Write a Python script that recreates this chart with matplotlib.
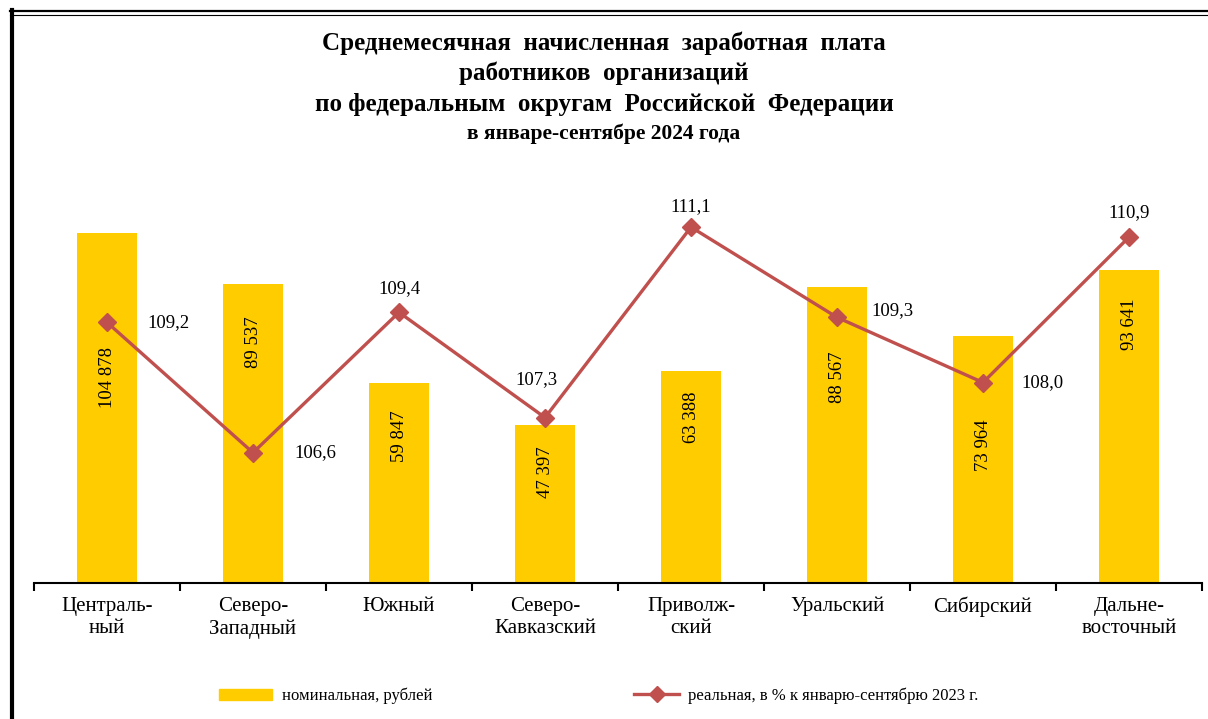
import matplotlib
matplotlib.use("Agg")
import matplotlib.pyplot as plt
from matplotlib.lines import Line2D
from matplotlib.patches import Patch

# data: federal districts, nominal wage (rub) and real wage index (% to 2023)
districts = ["Централь-\nный", "Северо-\nЗападный", "Южный", "Северо-\nКавказский",
             "Приволж-\nский", "Уральский", "Сибирский", "Дальне-\nвосточный"]
nominal = [104878, 89537, 59847, 47397, 63388, 88567, 73964, 93641]
real = [109.2, 106.6, 109.4, 107.3, 111.1, 109.3, 108.0, 110.9]

# where the labels sit (layout only)
bar_label_y = [61500, 72000, 43900, 33200, 49600, 61500, 41200, 77400]
line_label_off = [(44, 0), (45, 0), (0, 17), (-6, 27), (0, 15), (40, 5), (43, 0), (0, 18)]

BAR = "#FFCC00"
LINE = "#C0504D"
plt.rcParams["font.family"] = ["Liberation Serif", "DejaVu Serif"]

fig = plt.figure(figsize=(12.08, 7.19), dpi=100)
ax = fig.add_axes([34/1208, 1-583/719, 1168/1208, 401/719])
x = list(range(len(districts)))

ax.bar(x, nominal, width=0.41, color=BAR, zorder=1)
ax.set_xlim(-0.5, 7.5)
ax.set_ylim(0, 120000)
for i, v in enumerate(nominal):
    ax.text(i, bar_label_y[i], f"{v:,}".replace(",", " "), rotation=90,
            ha="center", va="center", fontsize=13.5)

for s in ["top", "right", "left"]:
    ax.spines[s].set_visible(False)
ax.spines["bottom"].set_linewidth(1.5)
ax.set_yticks([])
ax.set_xticks([i - 0.5 for i in range(len(districts) + 1)])
ax.set_xticklabels([])
ax.set_xticks(x, minor=True)
ax.set_xticklabels(districts, minor=True, fontsize=15, linespacing=1.25)
ax.tick_params(axis="x", which="major", length=6, width=1.5, direction="out")
ax.tick_params(axis="x", which="minor", length=0, pad=10)

ax2 = ax.twinx()
ax2.set_ylim(104, 112)
ax2.plot(x, real, color=LINE, lw=2.4, marker="D", markersize=9, zorder=3)
ax2.axis("off")
for i, v in enumerate(real):
    ax2.annotate(f"{v:.1f}".replace(".", ","), (i, v), xytext=line_label_off[i],
                 textcoords="offset points", ha="center", va="center", fontsize=13.5)

# title
fig.text(0.5, 1-43/719, "Среднемесячная  начисленная  заработная  плата", ha="center",
         va="center", fontsize=18, fontweight="bold")
fig.text(0.5, 1-73/719, "работников  организаций", ha="center", va="center",
         fontsize=18, fontweight="bold")
fig.text(0.5, 1-104/719, "по федеральным  округам  Российской  Федерации", ha="center",
         va="center", fontsize=18, fontweight="bold")
fig.text(0.5, 1-134/719, "в январе-сентябре 2024 года", ha="center", va="center",
         fontsize=15.5, fontweight="bold")

# legend
fig.legend([Patch(color=BAR)], ["номинальная, рублей"], loc="center left",
           bbox_to_anchor=(204/1208, 1-696/719), frameon=False, fontsize=12,
           handlelength=3.2, handleheight=0.6, handletextpad=0.6)
fig.legend([Line2D([], [], color=LINE, lw=2.4, marker="D", markersize=8)],
           ["реальная, в % к январю-сентябрю 2023 г."], loc="center left",
           bbox_to_anchor=(619/1208, 1-696/719), frameon=False, fontsize=12,
           handlelength=2.7, handletextpad=0.55)

# frame lines
fig.add_artist(Line2D([10/1208, 1], [1-11/719, 1-11/719], color="black", lw=1.6))
fig.add_artist(Line2D([10/1208, 1], [1-14.5/719, 1-14.5/719], color="black", lw=0.8))
fig.add_artist(Line2D([11.5/1208, 11.5/1208], [0, 1-10/719], color="black", lw=3))

fig.savefig("out.png", dpi=100)
